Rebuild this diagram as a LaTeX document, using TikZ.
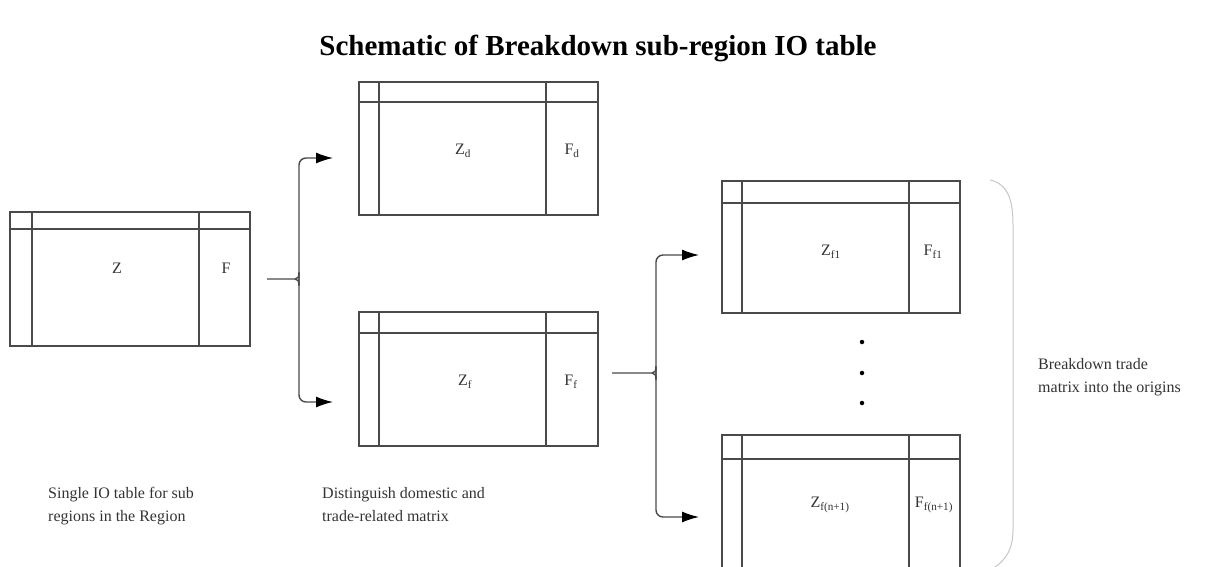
\documentclass[tikz,border=0pt]{standalone}
\usepackage{fontspec}
\setmainfont{Liberation Serif}
\usetikzlibrary{arrows.meta}
\definecolor{ln}{HTML}{4A4A4A}
\definecolor{tx}{HTML}{333333}
\tikzset{
  tbl/.style={draw=ln, line width=1.4pt, minimum width=239pt, inner sep=0pt, outer sep=0pt},
  inl/.style={draw=ln, line width=1.4pt},
  lbl/.style={font=\fontsize{16}{18}\selectfont, text=tx, inner sep=1pt},
  captxt/.style={font=\fontsize{16}{23}\selectfont, text=tx, align=left, anchor=north west, inner sep=0pt},
  conn/.style={draw=ln, line width=1.4pt, rounded corners=7pt},
  arr/.style={conn, -{Latex[length=17pt,width=11pt,color=black]}},
  dotnode/.style={circle, fill=black, minimum size=4.5pt, inner sep=0pt}
}
\newcommand{\tablelines}[4]{% name, left col, right col, header
  \draw[inl] ([xshift=#2pt]#1.north west) -- ([xshift=#2pt]#1.south west);
  \draw[inl] ([xshift=-#3pt]#1.north east) -- ([xshift=-#3pt]#1.south east);
  \draw[inl] ([yshift=-#4pt]#1.north west) -- ([yshift=-#4pt]#1.north east);
}
\begin{document}
\begin{tikzpicture}[x=1pt,y=-1pt]
\clip (0,0) rectangle (1213,566);
\useasboundingbox (0,0) rectangle (1213,566);
% title
\node[font=\fontsize{29}{31}\selectfont\bfseries] (title) at (598,48) {Schematic of Breakdown sub-region IO table};
% tables
\node[tbl, minimum width=240pt, minimum height=134pt] (T1) at (130,279) {};
\tablelines{T1}{22}{51}{17}
\node[tbl, minimum height=133pt] (Td) at (478.5,148.5) {};
\tablelines{Td}{20}{52}{20}
\node[tbl, minimum height=134pt] (Tf) at (478.5,379) {};
\tablelines{Tf}{20}{52}{21}
\node[tbl, minimum width=238pt, minimum height=132pt] (T1f) at (841,247) {};
\tablelines{T1f}{20}{51}{22}
\node[tbl, minimum width=238pt, minimum height=160pt] (Tnf) at (841,515) {};
\tablelines{Tnf}{20}{51}{24}
% labels
\node[lbl] (lZ) at (117,268) {Z};
\node[lbl] (lF) at (226,268) {F};
\node[lbl] (lZd) at (463,151) {Z\textsubscript{d}};
\node[lbl] (lFd) at (572,151) {F\textsubscript{d}};
\node[lbl] (lZf) at (465,382) {Z\textsubscript{f}};
\node[lbl] (lFf) at (571,382) {F\textsubscript{f}};
\node[lbl] (lZf1) at (831,252) {Z\textsubscript{f1}};
\node[lbl] (lFf1) at (933,252) {F\textsubscript{f1}};
\node[lbl] (lZfn) at (830,505) {Z\textsubscript{f(n+1)}};
\node[lbl] (lFfn) at (934,505) {F\textsubscript{f(n+1)}};
% first brace
\coordinate (j1) at (299,279);
\coordinate (a1t) at (333,158);
\coordinate (a1b) at (333,402);
\draw[conn, rounded corners=0pt] ([xshift=17pt]T1.east |- j1) -- ([xshift=-4pt]j1) .. controls ([xshift=-1pt]j1) and ([yshift=-2pt]j1) .. ([yshift=-7pt]j1);
\draw[conn, rounded corners=0pt] ([xshift=-4pt]j1) .. controls ([xshift=-1pt]j1) and ([yshift=2pt]j1) .. ([yshift=7pt]j1);
\draw[arr] ([yshift=-6pt]j1) |- (a1t);
\draw[arr] ([yshift=6pt]j1) |- (a1b);
% second brace
\coordinate (j2) at (656,373);
\coordinate (a2t) at (699,255);
\coordinate (a2b) at (699,517);
\draw[conn, rounded corners=0pt] ([xshift=14pt]Tf.east |- j2) -- ([xshift=-4pt]j2) .. controls ([xshift=-1pt]j2) and ([yshift=-2pt]j2) .. ([yshift=-7pt]j2);
\draw[conn, rounded corners=0pt] ([xshift=-4pt]j2) .. controls ([xshift=-1pt]j2) and ([yshift=2pt]j2) .. ([yshift=7pt]j2);
\draw[arr] ([yshift=-6pt]j2) |- (a2t);
\draw[arr] ([yshift=6pt]j2) |- (a2b);
% dots
\node[dotnode] (d1) at (862,342) {};
\node[dotnode] (d2) at (862,373) {};
\node[dotnode] (d3) at (862,403) {};
% right bracket
\draw[gray!45, line width=1pt] (990,180) .. controls (1008,184) and (1013,200) .. (1013,225) -- (1013,530) .. controls (1013,550) and (1005,562) .. (990,570);
% captions
\node[captxt] (c1) at (48,487) {Single IO table for sub\\regions in the Region};
\node[captxt] (c2) at (322,487) {Distinguish domestic and\\trade-related matrix};
\node[captxt] (c3) at (1038,358) {Breakdown trade\\matrix into the origins};
\end{tikzpicture}
\end{document}
